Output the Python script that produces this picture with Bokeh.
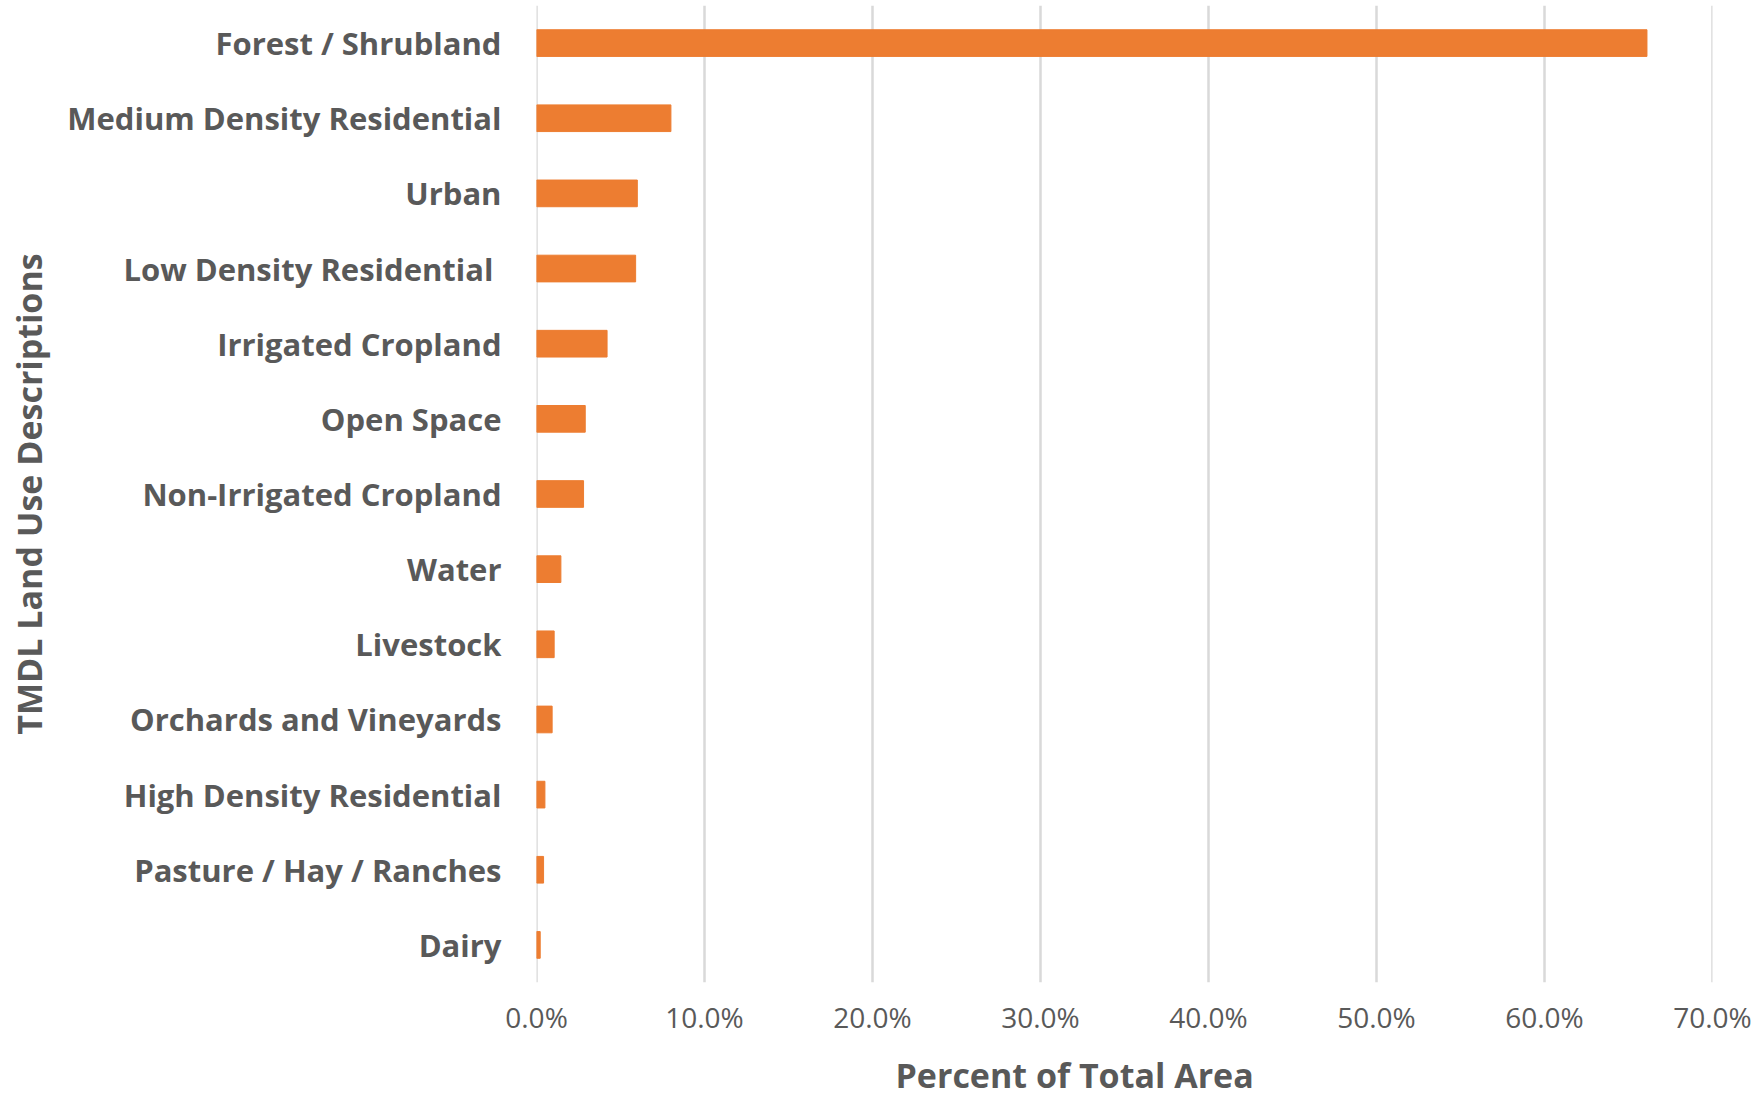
from bokeh.plotting import figure
from bokeh.models import FactorRange, Range1d, FixedTicker, PrintfTickFormatter, Title
from bokeh.embed import file_html
from bokeh.resources import INLINE

categories = [
    "Forest / Shrubland",
    "Medium Density Residential",
    "Urban",
    "Low Density Residential ",
    "Irrigated Cropland",
    "Open Space",
    "Non-Irrigated Cropland",
    "Water",
    "Livestock",
    "Orchards and Vineyards",
    "High Density Residential",
    "Pasture / Hay / Ranches",
    "Dairy",
]
percent_of_area = [66.1, 8.0, 6.0, 5.9, 4.2, 2.9, 2.8, 1.45, 1.05, 0.93, 0.5, 0.42, 0.22]
x_ticks = [0, 10, 20, 30, 40, 50, 60, 70]

FONT = "Open Sans"
GREY = "#595959"

p = figure(
    width=1758, height=1109,
    y_range=FactorRange(*list(reversed(categories))),
    x_range=Range1d(-0.001, 70.001),
    output_backend="svg", toolbar_location=None,
    min_border_left=536, min_border_right=46, min_border_top=5, min_border_bottom=124,
)
p.hbar(y=categories, right=percent_of_area, left=0, height=0.355, color="#ED7D31")

p.outline_line_color = None
p.ygrid.grid_line_color = None
p.xgrid.grid_line_color = "#D9D9D9"
p.xgrid.grid_line_width = 2.5

p.xaxis.ticker = FixedTicker(ticks=x_ticks)
p.xaxis.formatter = PrintfTickFormatter(format="%.1f%%")
p.xaxis.axis_line_color = None
p.xaxis.major_tick_line_color = None
p.xaxis.minor_tick_line_color = None
p.xaxis.major_tick_out = 0
p.xaxis.major_tick_in = 0
p.xaxis.minor_tick_out = 0
p.xaxis.major_label_text_font = FONT
p.xaxis.major_label_text_font_size = "28px"
p.xaxis.major_label_text_color = GREY
p.xaxis.major_label_standoff = 15
p.xaxis.major_label_text_line_height = 0.9

p.yaxis.axis_line_color = None
p.yaxis.major_tick_line_color = None
p.yaxis.minor_tick_line_color = None
p.yaxis.major_tick_out = 0
p.yaxis.major_tick_in = 0
p.yaxis.minor_tick_out = 0
p.yaxis.major_label_text_font = FONT
p.yaxis.major_label_text_font_size = "31px"
p.yaxis.major_label_text_font_style = "bold"
p.yaxis.major_label_text_color = GREY
p.yaxis.major_label_standoff = 35
p.yaxis.axis_label = "TMDL Land Use Descriptions"
p.yaxis.axis_label_text_font = FONT
p.yaxis.axis_label_text_font_size = "34px"
p.yaxis.axis_label_text_font_style = "bold"
p.yaxis.axis_label_text_color = GREY
p.yaxis.axis_label_standoff = 12

xtitle = Title(
    text="Percent of Total Area", align="left", offset=359, standoff=23,
    text_font=FONT, text_font_size="34px", text_font_style="bold", text_color=GREY,
    text_line_height=0.8,
)
p.add_layout(xtitle, "below")

open("out.html", "w").write(file_html(p, INLINE))
